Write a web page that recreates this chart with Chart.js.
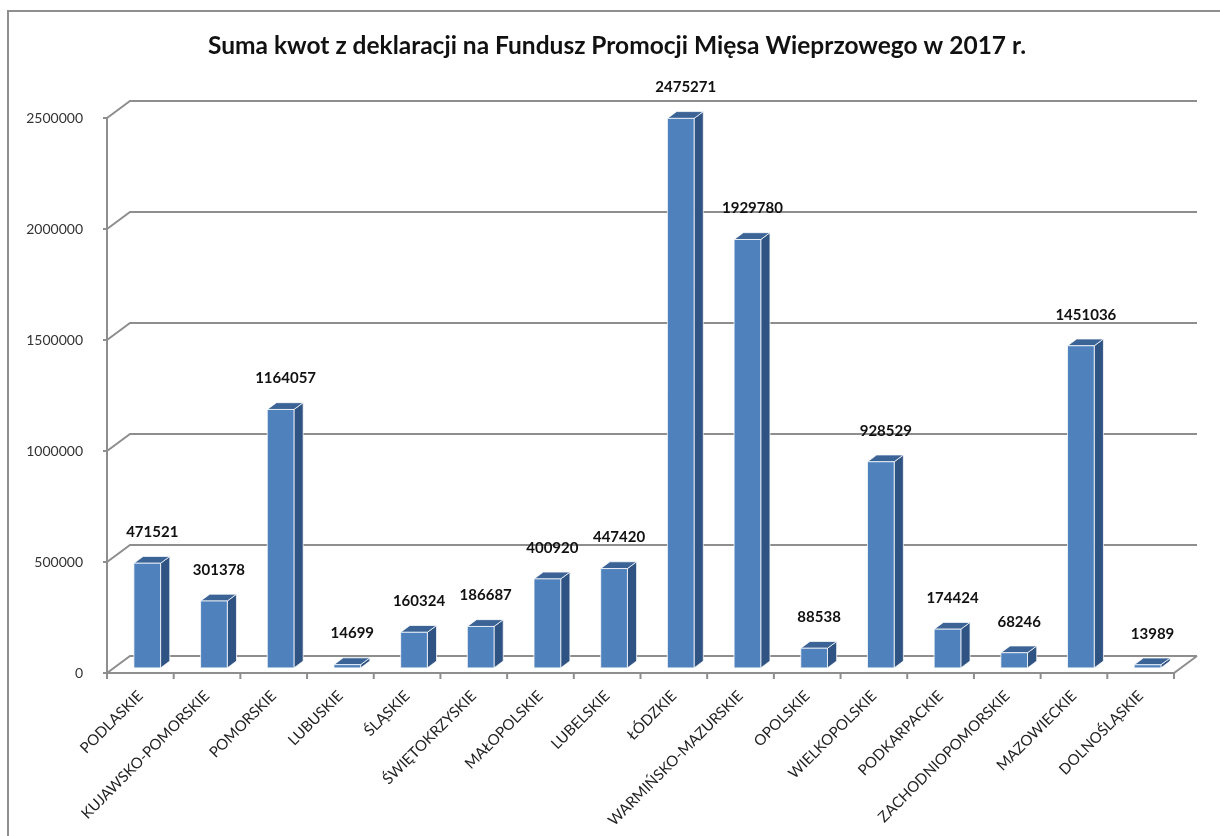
<!DOCTYPE html>
<html>
<head>
<meta charset="utf-8">
<script src="https://cdn.jsdelivr.net/npm/chart.js@4"></script>
<style>
  body { margin: 0; background: #fff; overflow: hidden; }
  #frame { position: absolute; left: 7px; top: 10px; width: 1300px; height: 900px; border: 2px solid #8f8f8f; }
  #chart-1 { position: absolute; left: 0; top: 0; }
</style>
</head>
<body>
<div id="frame"></div>
<canvas id="chart-1" width="1220" height="836"></canvas>
<script>
const categories = ['PODLASKIE', 'KUJAWSKO-POMORSKIE', 'POMORSKIE', 'LUBUSKIE', 'ŚLĄSKIE', 'ŚWIĘTOKRZYSKIE',
    'MAŁOPOLSKIE', 'LUBELSKIE', 'ŁÓDZKIE', 'WARMIŃSKO-MAZURSKIE', 'OPOLSKIE', 'WIELKOPOLSKIE',
    'PODKARPACKIE', 'ZACHODNIOPOMORSKIE', 'MAZOWIECKIE', 'DOLNOŚLĄSKIE'];
const kwoty = [471521, 301378, 1164057, 14699, 160324, 186687, 400920, 447420,
    2475271, 1929780, 88538, 928529, 174424, 68246, 1451036, 13989];
const yTickValues = [0, 500000, 1000000, 1500000, 2000000, 2500000];
const chartTitle = 'Suma kwot z deklaracji na Fundusz Promocji Mięsa Wieprzowego w 2017 r.';

// 3d look
const DX = 23, DY = -17;
const GRID = '#8e8e8e';
const FRONT = '#4f81bd', SIDE = '#2f5383', TOP = '#3b6396';

const box3d = {
    id: 'box3d',
    beforeDatasetsDraw(chart) {
        const { ctx, chartArea: a, scales: { x, y } } = chart;
        const py0 = y.getPixelForValue(0);
        const pyMax = y.getPixelForValue(yTickValues[yTickValues.length - 1]);
        ctx.save();
        ctx.strokeStyle = GRID;
        ctx.lineWidth = 2;
        // back wall gridlines + side wall diagonals
        yTickValues.forEach(v => {
            const py = y.getPixelForValue(v);
            ctx.beginPath();
            ctx.moveTo(a.left, py);
            ctx.lineTo(a.left + DX, py + DY);
            ctx.lineTo(a.right + DX, py + DY);
            ctx.stroke();
            // tick mark
            ctx.beginPath();
            ctx.moveTo(a.left - 4, py);
            ctx.lineTo(a.left, py);
            ctx.stroke();
        });
        // floor front + right edge
        ctx.beginPath();
        ctx.moveTo(a.left, py0);
        ctx.lineTo(a.right, py0);
        ctx.lineTo(a.right + DX, py0 + DY);
        ctx.stroke();
        // y axis line
        ctx.beginPath();
        ctx.moveTo(a.left, pyMax);
        ctx.lineTo(a.left, py0);
        ctx.stroke();
        // x tick marks between categories
        for (let i = 0; i <= categories.length; i++) {
            const px = x.getPixelForValue(i - 0.5);
            ctx.beginPath();
            ctx.moveTo(px, py0);
            ctx.lineTo(px, py0 + 6);
            ctx.stroke();
        }
        ctx.restore();
    },
    afterDatasetsDraw(chart) {
        const { ctx } = chart;
        const meta = chart.getDatasetMeta(0);
        ctx.save();
        meta.data.forEach((bar, i) => {
            const w = bar.width;
            const fx = bar.x - w / 2 + DX * 0.3;
            const ftop = bar.y + DY * 0.3;
            const fbot = bar.base + DY * 0.3;
            const ox = DX * 0.4, oy = DY * 0.4;
            ctx.strokeStyle = 'rgba(255,255,255,0.75)';
            ctx.lineWidth = 1;
            ctx.lineJoin = 'round';
            // side
            ctx.fillStyle = SIDE;
            ctx.beginPath();
            ctx.moveTo(fx + w, ftop);
            ctx.lineTo(fx + w + ox, ftop + oy);
            ctx.lineTo(fx + w + ox, fbot + oy);
            ctx.lineTo(fx + w, fbot);
            ctx.closePath();
            ctx.fill();
            ctx.stroke();
            // top
            ctx.fillStyle = TOP;
            ctx.beginPath();
            ctx.moveTo(fx, ftop);
            ctx.lineTo(fx + ox, ftop + oy);
            ctx.lineTo(fx + w + ox, ftop + oy);
            ctx.lineTo(fx + w, ftop);
            ctx.closePath();
            ctx.fill();
            ctx.stroke();
            // front
            ctx.fillStyle = FRONT;
            ctx.fillRect(fx, ftop, w, fbot - ftop);
            ctx.strokeRect(fx, ftop, w, fbot - ftop);
            // value label
            ctx.fillStyle = '#111';
            ctx.font = 'bold 15px Lato';
            ctx.textAlign = 'center';
            ctx.textBaseline = 'middle';
            ctx.fillText(String(kwoty[i]), fx + w / 2 + 5, ftop - 31);
        });
        ctx.restore();
    }
};

const ctx = document.getElementById('chart-1').getContext('2d');
const myChart = new Chart(ctx, {
    type: 'bar',
    data: {
        labels: categories,
        datasets: [{
            data: kwoty,
            backgroundColor: 'rgba(0,0,0,0)',
            borderWidth: 0,
            categoryPercentage: 1,
            barPercentage: 0.4,
        }],
    },
    options: {
        responsive: false,
        animation: false,
        layout: { padding: { left: 14, right: 0, top: 0, bottom: 0 } },
        plugins: {
            legend: { display: false },
            tooltip: { enabled: false },
            title: {
                display: true,
                text: chartTitle,
                color: '#111',
                font: { family: 'Lato', size: 24.5, weight: 'bold', lineHeight: 1.2 },
                padding: { top: 31, bottom: 57.6 },
            },
        },
        scales: {
            x: {
                grid: { display: false },
                border: { display: false },
                ticks: {
                    color: '#222',
                    font: { family: 'Lato', size: 15 },
                    minRotation: 45,
                    maxRotation: 45,
                    autoSkip: false,
                    padding: 6,
                },
                afterFit(s) { s.height = 163; },
            },
            y: {
                min: 0,
                max: 2500000,
                grid: { display: false },
                border: { display: false },
                afterBuildTicks(s) { s.ticks = yTickValues.map(v => ({ value: v })); },
                ticks: {
                    color: '#333',
                    font: { family: 'Lato', size: 14 },
                    padding: 16,
                    callback: v => String(v),
                },
                afterFit(s) { s.width = 93; },
            },
            yRight: {
                position: 'right',
                display: true,
                grid: { display: false },
                border: { display: false },
                ticks: { display: false },
                afterFit(s) { s.width = 46; },
            },
        },
    },
    plugins: [box3d],
});
</script>
</body>
</html>
